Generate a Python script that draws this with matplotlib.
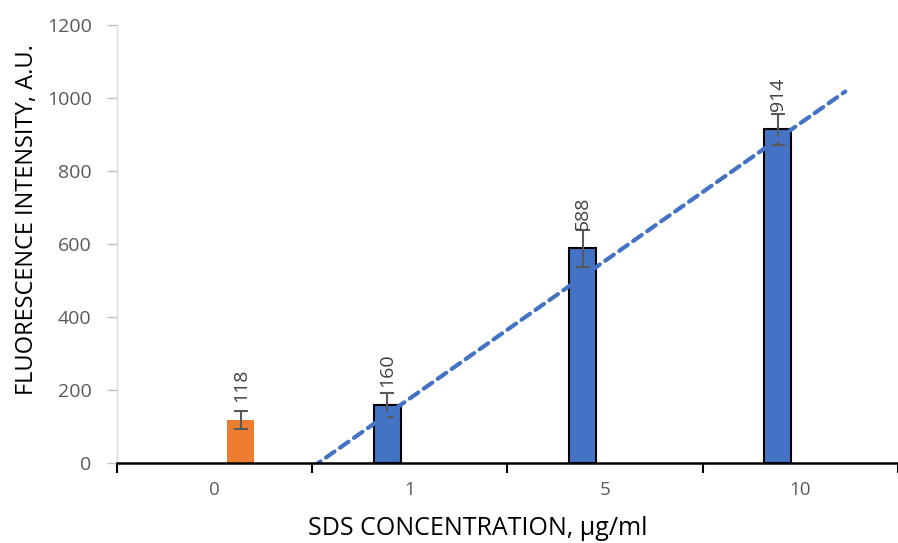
import numpy as np
import matplotlib
matplotlib.use("Agg")
import matplotlib.pyplot as plt
from matplotlib import transforms

categories = ["0", "1", "5", "10"]
control_value = [118]
control_err = [24]
sds_values = [160, 588, 914]
sds_err = [33, 50, 42]

plt.rcParams['font.family'] = ['Open Sans', 'DejaVu Sans']

fig = plt.figure(figsize=(8.98, 5.43), dpi=100)
ax = fig.add_axes([0.130, 0.147, 0.870, 0.807])

idx = np.arange(len(categories))
off_c = 0.135
off_s = 0.115
w = 0.138

ax.bar(idx[0] + off_c, control_value, width=w, color="#ED7D31", zorder=2,
       yerr=control_err, error_kw=dict(ecolor="#595959", elinewidth=1.5, capsize=5, capthick=1.5))
ax.bar(idx[1:] - off_s, sds_values, width=w, color="#4472C4", edgecolor="black", linewidth=1.5,
       zorder=2, yerr=sds_err,
       error_kw=dict(ecolor="#595959", elinewidth=1.5, capsize=5, capthick=1.5))

# trendline (linear fit of SDS series on category index)
coef = np.polyfit(idx[1:], sds_values, 1)
tx = np.array([0.5, 3.23])
ax.plot(tx, np.polyval(coef, tx), linestyle=(0, (2.5, 1.6)), color="#4472C4",
        linewidth=3, zorder=3, dash_capstyle="round")

# data labels
lab_off = transforms.offset_copy(ax.transData, fig=fig, x=0, y=18, units="dots")
for x, v in zip([idx[0] + off_c], control_value):
    ax.text(x, v, f"{v}", rotation=90, ha="center", va="bottom", fontsize=14,
            color="#404040", transform=lab_off, zorder=4)
for x, v in zip(idx[1:] - off_s, sds_values):
    ax.text(x, v, f"{v}", rotation=90, ha="center", va="bottom", fontsize=14,
            color="#404040", transform=lab_off, zorder=4)

ax.set_xlim(-0.5, 3.5)
ax.set_ylim(0, 1200)
ax.set_yticks(np.arange(0, 1201, 200))
ax.tick_params(axis="y", colors="#595959", labelsize=14, length=7, width=1, color="#BFBFBF", pad=11)
ax.set_xticks(idx)
ax.set_xticklabels(categories)
ax.set_xticks(np.arange(-0.5, 3.6, 1), minor=True)
ax.tick_params(axis="x", which="major", length=0, labelsize=13.5, labelcolor="#595959", pad=13)
ax.tick_params(axis="x", which="minor", length=7, width=1.5, color="black")

for s in ["top", "right"]:
    ax.spines[s].set_visible(False)
ax.spines["left"].set_color("#D9D9D9")
ax.spines["left"].set_linewidth(1)
ax.spines["bottom"].set_color("black")
ax.spines["bottom"].set_linewidth(1.8)
ax.spines["bottom"].set_zorder(5)

ax.set_ylabel("FLUORESCENCE INTENSITY, A.U.", fontsize=17, color="black")
ax.yaxis.set_label_coords(-0.100, 0.555)
ax.set_xlabel("SDS CONCENTRATION, μg/ml", fontsize=18, color="black")
ax.xaxis.set_label_coords(0.462, -0.121)

fig.savefig("out.png", dpi=100)
